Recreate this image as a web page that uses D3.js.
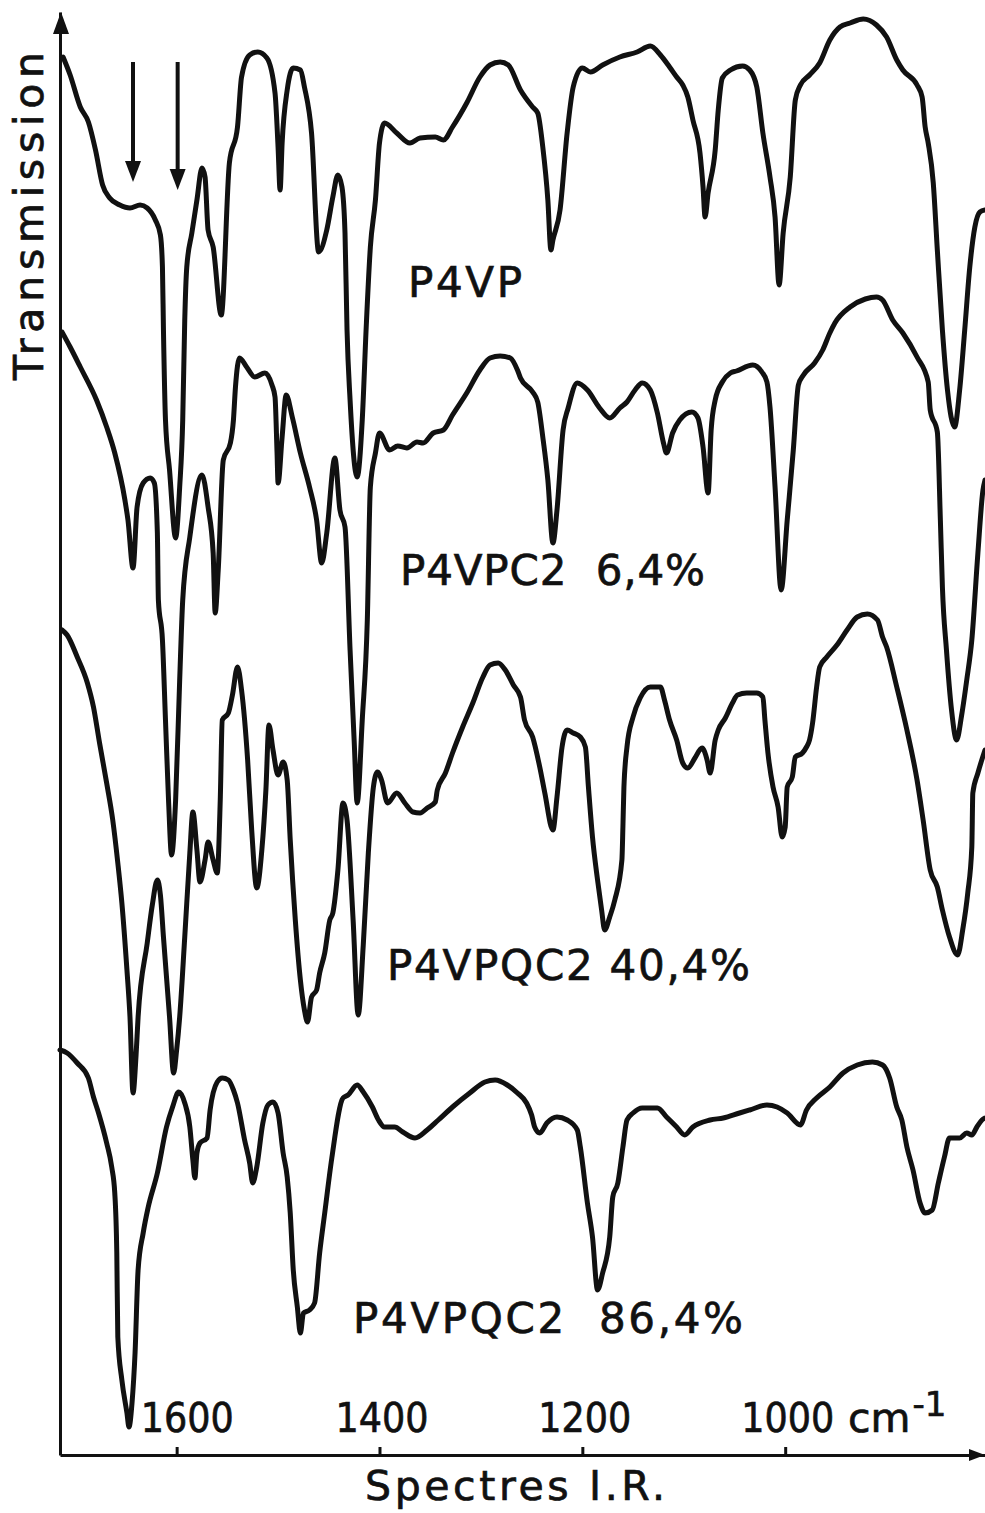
<!DOCTYPE html>
<html>
<head>
<meta charset="utf-8">
<script src="https://cdn.jsdelivr.net/npm/d3@7"></script>
<style>
  html, body { margin: 0; padding: 0; background: #fff; }
  svg { display: block; }
  .trace { fill: none; stroke: #111; stroke-width: 5; stroke-linejoin: round; stroke-linecap: round; }
  text { font-family: "DejaVu Sans", sans-serif; fill: #111; stroke: #111; stroke-width: 0.7; }
</style>
</head>
<body>
<svg id="chart" width="985" height="1513"></svg>
<script>
// IR spectra: [wavenumber cm-1, transmission (arbitrary units, traces stacked)]
const p4vp = [
  [1712,139.8],[1705,138.0],[1695,134.8],[1687,133.3],[1680,130.5],[1673,127.0],[1666,125.7],[1656,125.0],
  [1646,124.7],[1636,125.0],[1629,124.7],[1621,123.5],[1616,122.0],[1614,118.8],[1613,112.5],[1611,103.5],
  [1607,98.5],[1601,91.7],[1597,96.8],[1594,103.5],[1592,113.5],[1590,118.8],[1585,122.2],[1580,125.5],
  [1575,128.7],[1572,127.8],[1569,122.5],[1564,120.8],[1556,114.0],[1548,129.2],[1540,132.8],[1536,137.8],
  [1528,140.0],[1520,140.3],[1511,139.7],[1503,136.2],[1500,130.8],[1498,126.5],[1496,131.2],[1491,136.5],
  [1485,138.7],[1478,138.5],[1474,136.8],[1467,132.2],[1460,120.3],[1452,122.5],[1446,125.8],[1441,128.0],
  [1437,126.8],[1434,122.2],[1432,112.5],[1429,105.5],[1422,97.8],[1417,103.5],[1413,113.0],[1409,120.8],
  [1404,125.5],[1400,131.2],[1395,133.2],[1383,132.2],[1370,131.2],[1360,131.7],[1345,131.8],[1337,131.5],
  [1328,132.8],[1314,135.2],[1301,137.8],[1291,139.0],[1281,139.3],[1273,139.0],[1261,136.5],[1249,134.8],
  [1244,134.2],[1239,130.8],[1234,125.5],[1231,120.5],[1229,121.5],[1222,124.5],[1215,132.2],[1209,136.8],
  [1200,138.7],[1192,138.3],[1180,139.0],[1163,139.8],[1146,140.3],[1133,140.9],[1123,140.0],[1114,138.8],
  [1107,137.8],[1101,137.0],[1096,135.8],[1091,133.5],[1084,130.2],[1081,126.8],[1079,123.8],[1076,126.2],
  [1069,130.5],[1066,134.5],[1062,137.7],[1054,138.5],[1042,138.9],[1035,138.5],[1028,136.8],[1022,132.2],
  [1015,127.8],[1010,123.8],[1006,117.0],[1002,122.2],[995,127.8],[990,135.5],[985,137.0],[976,138.0],
  [966,139.2],[956,141.5],[946,142.8],[936,143.2],[923,143.6],[910,143.0],[900,141.8],[890,139.5],
  [884,138.5],[870,137.0],[865,135.8],[862,132.8],[859,131.2],[854,127.2],[850,120.5],[845,112.5],
  [840,106.5],[833,102.8],[828,106.5],[823,112.5],[818,118.8],[813,122.8],[808,124.3],[803,124.5]
];

const p4vpc2 = [
  [1713,112.3],[1705,110.8],[1695,108.8],[1679,105.5],[1669,102.8],[1661,100.2],[1651,95.5],[1648,93.5],
  [1643,88.7],[1639,94.8],[1633,97.2],[1626,97.7],[1622,97.2],[1619,92.2],[1618,85.5],[1614,81.5],
  [1611,73.5],[1608,65.5],[1605,60.0],[1601,65.5],[1597,77.5],[1594,85.5],[1587,91.8],[1575,98.0],
  [1569,94.8],[1564,90.2],[1562,84.2],[1559,88.5],[1554,99.5],[1547,101.2],[1544,103.5],[1542,106.8],
  [1538,109.7],[1531,108.8],[1523,107.8],[1513,108.2],[1506,107.0],[1503,105.8],[1501,100.2],[1500,97.2],
  [1496,101.8],[1492,106.0],[1486,103.8],[1478,100.2],[1469,96.8],[1462,93.5],[1457,89.2],[1452,92.2],
  [1444,99.7],[1439,94.5],[1434,92.8],[1429,80.5],[1425,71.5],[1422,65.2],[1417,73.5],[1412,83.5],
  [1409,96.8],[1404,100.2],[1400,102.2],[1390,100.5],[1382,100.9],[1373,100.7],[1363,101.3],[1357,101.2],
  [1347,102.2],[1337,102.5],[1328,104.0],[1314,106.2],[1301,108.5],[1291,109.7],[1281,109.9],[1271,109.7],
  [1264,108.5],[1261,107.7],[1249,106.3],[1244,105.3],[1239,101.8],[1234,97.5],[1229,91.2],[1225,94.5],
  [1219,102.5],[1214,104.7],[1205,107.2],[1195,106.5],[1183,104.7],[1173,103.7],[1163,104.7],[1156,105.3],
  [1148,106.5],[1141,107.2],[1133,106.5],[1126,104.2],[1120,101.2],[1117,100.2],[1111,102.2],[1104,103.5],
  [1092,104.3],[1086,103.7],[1081,100.8],[1076,96.2],[1073,102.5],[1069,105.5],[1062,107.3],[1054,108.2],
  [1048,108.4],[1032,109.0],[1023,108.3],[1018,107.3],[1015,104.8],[1010,96.8],[1004,86.5],[998,93.5],
  [992,100.5],[987,107.0],[982,108.0],[971,109.2],[963,110.5],[956,112.2],[951,113.2],[936,114.8],
  [921,115.6],[910,115.8],[904,115.5],[894,113.5],[884,112.2],[870,109.8],[859,107.3],[857,104.5],
  [850,102.3],[847,93.5],[845,86.8],[841,80.5],[836,74.5],[831,71.5],[826,74.0],[821,77.5],
  [816,81.5],[810,90.2],[805,96.5],[803,97.5]
];

const p4vpqc2_40 = [
  [1713,82.5],[1708,82.0],[1698,79.8],[1688,77.2],[1682,74.8],[1676,71.2],[1669,67.2],[1663,63.5],
  [1658,59.2],[1654,55.2],[1649,48.5],[1646,43.8],[1643,36.2],[1640,40.0],[1638,43.8],[1629,51.2],
  [1624,55.0],[1619,57.5],[1616,56.0],[1613,51.8],[1607,43.8],[1603,38.2],[1600,40.5],[1597,43.8],
  [1592,51.8],[1587,60.2],[1584,64.3],[1580,60.5],[1577,57.3],[1572,59.5],[1569,61.3],[1564,59.5],
  [1560,58.2],[1557,65.5],[1555,73.5],[1549,74.2],[1545,76.0],[1540,78.8],[1536,76.5],[1530,69.5],
  [1526,62.5],[1521,56.7],[1516,60.5],[1512,66.5],[1509,73.0],[1505,70.5],[1500,68.0],[1495,69.3],
  [1491,67.5],[1488,61.5],[1483,53.5],[1478,47.5],[1474,44.5],[1471,43.3],[1467,45.8],[1462,46.5],
  [1459,48.2],[1454,50.2],[1449,53.5],[1446,54.2],[1441,58.5],[1436,65.2],[1432,63.5],[1426,53.5],
  [1421,44.0],[1416,51.0],[1411,60.2],[1406,66.8],[1402,68.3],[1398,67.5],[1392,65.2],[1383,66.2],
  [1375,65.2],[1367,64.3],[1360,64.2],[1353,64.7],[1345,65.3],[1343,66.5],[1335,68.2],[1328,70.2],
  [1318,72.8],[1308,75.2],[1298,77.8],[1291,79.0],[1283,79.2],[1276,78.5],[1268,77.0],[1261,75.8],
  [1257,73.5],[1249,71.8],[1242,68.8],[1237,66.2],[1229,62.5],[1225,65.8],[1220,70.8],[1215,72.5],
  [1209,72.2],[1202,71.8],[1197,70.8],[1194,66.8],[1190,61.8],[1185,57.5],[1181,54.5],[1178,52.5],
  [1173,53.8],[1168,55.5],[1161,59.5],[1160,62.8],[1159,66.8],[1156,70.8],[1150,73.8],[1143,75.7],
  [1133,76.8],[1123,76.8],[1119,75.5],[1114,73.5],[1107,71.5],[1101,69.2],[1096,68.7],[1089,69.7],
  [1082,70.7],[1077,69.5],[1074,68.2],[1069,71.5],[1066,72.5],[1059,73.7],[1052,75.2],[1047,76.0],
  [1038,76.2],[1028,76.2],[1022,75.8],[1020,73.5],[1017,70.2],[1012,66.8],[1007,64.8],[1003,61.8],
  [1000,62.8],[998,66.8],[993,67.8],[990,69.8],[983,70.2],[979,70.8],[976,71.5],[973,73.2],
  [969,76.8],[966,78.8],[959,79.8],[949,81.0],[939,82.5],[929,83.8],[919,84.1],[909,83.5],
  [904,81.8],[900,80.8],[890,76.8],[880,72.5],[870,67.5],[864,63.5],[857,58.5],[850,56.8],
  [845,54.5],[838,51.8],[830,50.0],[825,52.5],[820,56.2],[816,60.8],[815,66.2],[810,68.2],[803,70.5]
];

const p4vpqc2_86 = [
  [1715,40.5],[1708,40.2],[1698,39.2],[1687,37.7],[1682,35.8],[1677,34.2],[1669,31.2],[1664,28.8],
  [1661,26.2],[1659,20.2],[1658,11.8],[1654,7.5],[1649,4.2],[1647,2.8],[1644,5.2],[1641,10.2],
  [1638,18.5],[1633,22.2],[1628,24.8],[1619,28.2],[1610,32.8],[1604,34.8],[1598,36.3],[1592,35.2],
  [1587,32.8],[1584,29.5],[1582,27.7],[1580,30.2],[1577,31.2],[1570,31.7],[1567,34.5],[1560,37.3],
  [1555,37.7],[1549,37.5],[1544,36.5],[1540,35.2],[1533,31.5],[1528,29.2],[1525,27.2],[1521,28.8],
  [1515,33.2],[1510,35.0],[1505,35.3],[1500,34.2],[1495,30.2],[1491,27.8],[1488,24.2],[1485,18.5],
  [1481,14.8],[1478,12.2],[1475,14.2],[1469,14.5],[1464,15.2],[1459,20.2],[1454,24.2],[1447,29.7],
  [1436,35.7],[1431,36.0],[1422,37.0],[1416,36.3],[1407,34.8],[1401,33.5],[1395,32.8],[1385,32.8],
  [1377,32.3],[1365,31.7],[1353,32.5],[1342,33.5],[1328,34.8],[1311,36.2],[1296,37.3],[1286,37.5],
  [1274,37.0],[1264,36.2],[1255,35.2],[1250,34.0],[1247,32.8],[1242,32.2],[1235,33.2],[1225,33.8],
  [1215,33.5],[1205,32.5],[1202,30.8],[1195,25.2],[1190,21.8],[1185,16.5],[1180,18.2],[1173,21.8],
  [1170,25.8],[1165,27.2],[1160,30.8],[1156,33.5],[1150,34.2],[1141,34.7],[1133,34.7],[1126,34.7],
  [1117,33.8],[1107,32.8],[1099,32.0],[1091,32.8],[1074,33.5],[1061,33.7],[1045,34.2],[1035,34.5],
  [1018,35.0],[1008,34.8],[998,34.2],[985,33.0],[979,34.5],[969,35.7],[956,36.8],[943,38.2],
  [929,39.0],[914,39.3],[904,39.0],[897,37.7],[890,34.8],[885,33.5],[880,30.8],[874,28.5],
  [867,25.2],[862,24.2],[855,24.5],[849,27.2],[843,29.8],[838,31.7],[828,31.7],[821,32.2],
  [816,32.0],[811,32.8],[806,33.5],[803,33.7]
];

const spectra = [p4vp, p4vpc2, p4vpqc2_40, p4vpqc2_86];
const seriesNames = ["P4VP", "P4VPC2  6,4%", "P4VPQC2 40,4%", "P4VPQC2  86,4%"];
const xTicks = [1600, 1400, 1200, 1000];
// wavenumbers marked by the two arrows above P4VP
const arrowBands = [1643, 1599];

const svg = d3.select("#chart");
const ink = "#111";

const x = d3.scaleLinear().domain([1715, 803]).range([60, 985]);
const y = d3.scaleLinear().domain([0, 144.3]).range([1455, 12]);

const line = d3.line()
    .x(d => x(d[0]))
    .y(d => y(d[1]))
    .curve(d3.curveMonotoneX);

// spectra
svg.selectAll(".trace")
    .data(spectra)
    .enter()
    .append("path")
    .attr("class", "trace")
    .attr("d", line);

// x axis, ticks pointing up, labels above
const xAxis = svg.append("g")
    .attr("transform", `translate(0,${y(0)})`)
    .call(d3.axisTop(x).tickValues(xTicks).tickSize(8).tickSizeOuter(0).tickPadding(15).tickFormat(d3.format("d")));

xAxis.select(".domain").attr("stroke", ink).attr("stroke-width", 3);
xAxis.selectAll(".tick line").attr("stroke", ink).attr("stroke-width", 3);
xAxis.selectAll(".tick text")
    .attr("fill", ink)
    .attr("font-size", 41)
    .attr("font-family", "DejaVu Sans, sans-serif")
    .attr("textLength", 93)
    .attr("lengthAdjust", "spacingAndGlyphs")
    .attr("dx", d => d === 1600 ? 10 : 2);

// unit next to the 1000 label
const unit = svg.append("text")
    .attr("x", 848)
    .attr("y", y(0) - 23)
    .attr("font-size", 41)
    .text("cm");
unit.append("tspan")
    .attr("dy", -16)
    .attr("dx", 2)
    .attr("font-size", 34)
    .text("-1");

// y axis (no ticks)
const yAxis = svg.append("g")
    .attr("transform", `translate(${x(1715)},0)`)
    .call(d3.axisLeft(y).tickValues([]).tickSizeOuter(0));
yAxis.select(".domain").attr("stroke", ink).attr("stroke-width", 3);

// arrow heads on both axes
const x0 = x.range()[0], x1 = x.range()[1];
const y0 = y.range()[0], y1 = y.range()[1];
svg.append("path")
    .attr("d", `M${x0 + 1},${y1} L${x0 - 7},${y1 + 22} L${x0 + 9},${y1 + 22} Z`)
    .attr("fill", ink);
svg.append("path")
    .attr("d", `M${x1},${y0} L${x1 - 16},${y0 - 6} L${x1 - 16},${y0 + 6} Z`)
    .attr("fill", ink);

// band arrows
const arrowTop = 139.3, arrowTip = [127.3, 126.5];
arrowBands.forEach((b, i) => {
    const ax = x(b), tip = y(arrowTip[i]);
    svg.append("line")
        .attr("x1", ax).attr("x2", ax)
        .attr("y1", y(arrowTop)).attr("y2", tip - 16)
        .attr("stroke", ink).attr("stroke-width", 4);
    svg.append("path")
        .attr("d", `M${ax},${tip} L${ax - 8},${tip - 21} L${ax + 8},${tip - 21} Z`)
        .attr("fill", ink);
});

// series labels
const labelLayout = [
    {x: 408, y: 297, w: 114},
    {x: 400, y: 585, w: 305},
    {x: 387, y: 980, w: 363},
    {x: 353, y: 1333, w: 390}
];
svg.selectAll(".series-label")
    .data(seriesNames)
    .enter()
    .append("text")
    .attr("class", "series-label")
    .attr("x", (d, i) => labelLayout[i].x)
    .attr("y", (d, i) => labelLayout[i].y)
    .attr("font-size", 42)
    .attr("textLength", (d, i) => labelLayout[i].w)
    .style("white-space", "pre")
    .text(d => d);

// axis titles
svg.append("text")
    .attr("transform", "translate(43,216) rotate(-90)")
    .attr("text-anchor", "middle")
    .attr("font-size", 41)
    .attr("textLength", 328)
    .text("Transmission");

svg.append("text")
    .attr("x", 365)
    .attr("y", 1500)
    .attr("font-size", 41)
    .attr("textLength", 300)
    .text("Spectres I.R.");
</script>
</body>
</html>
